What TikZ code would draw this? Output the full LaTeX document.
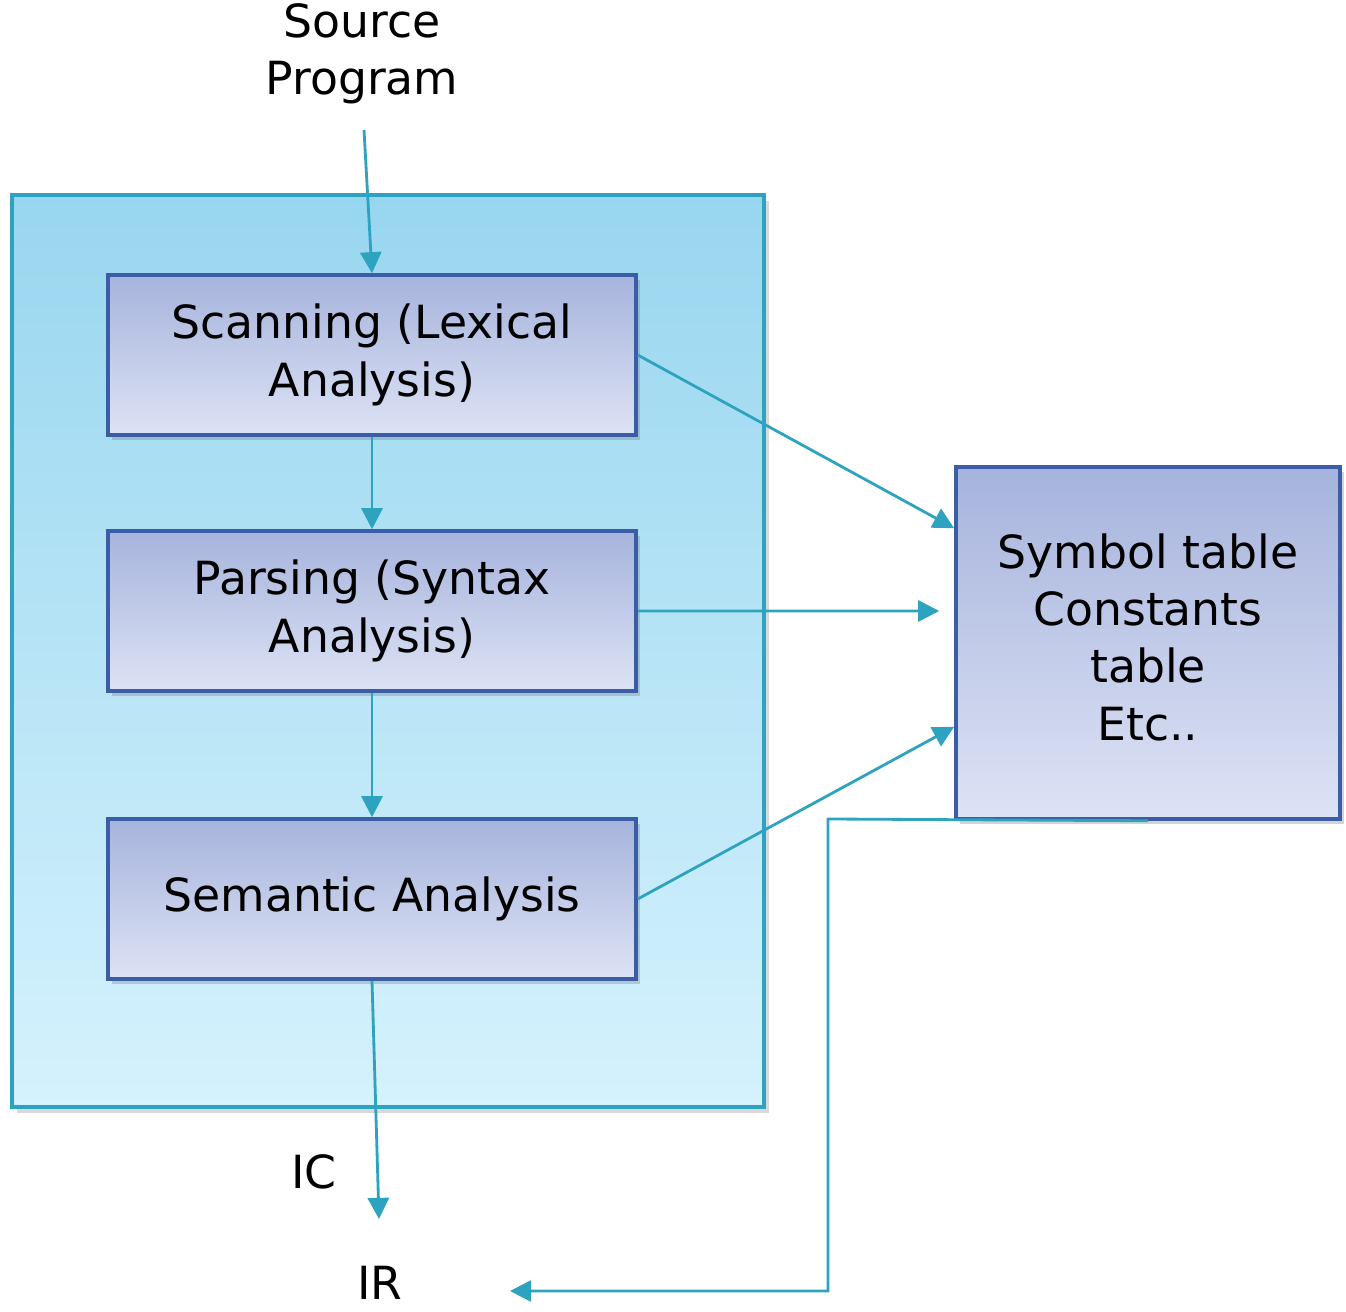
\documentclass[tikz,border=0pt]{standalone}
\usepackage{fontspec}
\setmainfont{DejaVu Sans}
\usepackage{xcolor}
\usepackage{tikz}
\usetikzlibrary{shapes,arrows,positioning,calc,shadows,arrows.meta}

\definecolor{flowcol}{RGB}{46,163,192}
\definecolor{outertop}{RGB}{152,214,239}
\definecolor{outerbot}{RGB}{213,242,253}
\definecolor{boxtop}{RGB}{166,179,220}
\definecolor{boxbot}{RGB}{221,227,245}
\definecolor{boxedge}{RGB}{58,93,165}

\tikzset{
  phase/.style={rectangle, draw=boxedge, line width=1pt, top color=boxtop, bottom color=boxbot,
    minimum width=5.28cm, minimum height=1.6cm, align=center, inner sep=0pt,
    drop shadow={shadow xshift=1.2pt, shadow yshift=-1.5pt, opacity=0.35}},
  flow/.style={draw=flowcol, line width=0.8pt, -{Triangle[length=6pt,width=6pt]}},
  lbl/.style={align=center, inner sep=0pt}
}

\begin{document}
\begin{tikzpicture}[font=\fontsize{13}{16.3}\selectfont]
            \useasboundingbox (0,0) rectangle (13.46,13.11);

            % front end container
            \node (Front) at (3.88,6.60) [rectangle, draw=flowcol, line width=1pt,
                top color=outertop, bottom color=outerbot, minimum width=7.52cm, minimum height=9.12cm,
                drop shadow={shadow xshift=1.5pt, shadow yshift=-1.8pt, opacity=0.3}] {};

            \node (Source) at (3.62,12.57) [lbl] {Source\\Program};
            \coordinate (SrcOut) at (3.64,11.81);

            \node (Scan) at (3.72,9.56) [phase] {Scanning (Lexical\\Analysis)};
            \node (Parse) at (3.72,7.00) [phase] {Parsing (Syntax\\Analysis)};
            \node (Sem) at (3.72,4.12) [phase] {Semantic Analysis};

            \node (Sym) at (11.48,6.68) [phase, minimum width=3.84cm, minimum height=3.52cm, text depth=0.12cm]
                {Symbol table\\Constants\\table\\Etc..};

            \node (IC) at (3.14,1.39) [lbl] {IC};
            \node (IR) at (3.80,0.28) [lbl] {IR};
            \coordinate (ICend) at (3.79,0.92);
            \coordinate (IRend) at (5.10,0.20);
            \coordinate (Turn) at (8.28,4.92);

            \draw [flow] (SrcOut) -- (Scan.north);
            \draw [flow] (Scan) -- (Parse);
            \draw [flow] (Parse) -- (Sem);

            \draw [flow] (Scan.east) -- ($(Sym.north west)+(0,-0.63)$);
            \draw [flow] (Parse.east) -- ($(Sym.west)+(-0.15,0.32)$);
            \draw [flow] (Sem.east) -- ($(Sym.south west)+(0,0.94)$);

            \draw [flow] (Sem.south) -- (ICend);
            \draw [flow] (Sym.south) -- (Turn) |- (IRend);
        \end{tikzpicture}
\end{document}
